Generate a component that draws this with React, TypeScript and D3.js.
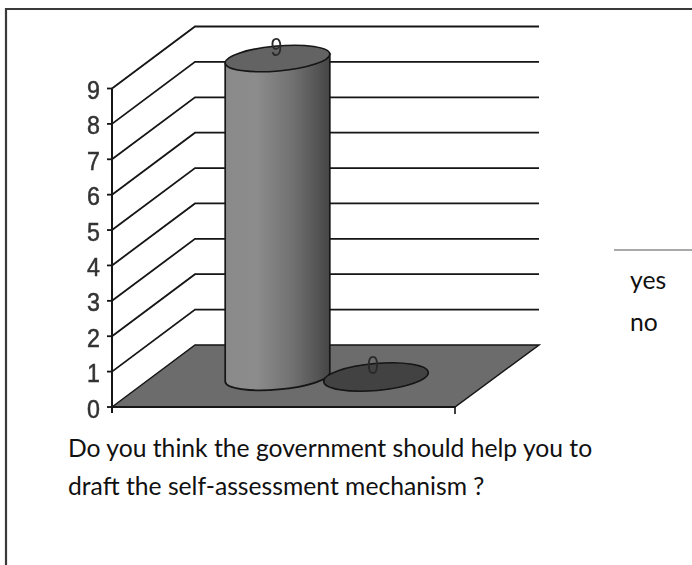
import React from "react";
import * as d3 from "d3";

const categories = ["yes", "no"];
const values = [9, 0];
const yTicks = [0, 1, 2, 3, 4, 5, 6, 7, 8, 9];
const questionLines = [
  "Do you think the government should help you to",
  "draft the self-assessment mechanism ?",
];

const W = 692, H = 565;
const y = d3.scaleLinear().domain([0, 9]).range([407, 88.5]);
const dx = 83, dy = -62;
const floorLeft = 112, floorRight = 455;
const cx = d3.scalePoint<string>().domain(categories).range([277.5, 376]);
const rx = 52.5, ry = 12.5;
const baseY = y(0) + dy / 2 + 1;
const ink = "#141414";

function lift(v: number) {
  return baseY - (y(0) - y(v));
}

export default function App() {
  const line = d3.line();
  const floor = line([
    [floorLeft, y(0)],
    [floorLeft + dx, y(0) + dy],
    [floorRight + dx + 1, y(0) + dy],
    [floorRight, y(0)],
  ])! + "Z";
  return (
    <svg width={W} height={H} viewBox={`0 0 ${W} ${H}`}
      style={{ position: "absolute", left: 0, top: 0, background: "#fff" }}>
      <defs>
        <linearGradient id="cyl" x1="0" x2="1" y1="0" y2="0">
          <stop offset="0" stopColor="#8a8a8a" />
          <stop offset="0.3" stopColor="#8c8c8c" />
          <stop offset="0.65" stopColor="#707070" />
          <stop offset="1" stopColor="#464646" />
        </linearGradient>
        <filter id="soft"><feGaussianBlur stdDeviation="0.4" /></filter>
      </defs>
      <path d={`M6,565V9H${W}`} fill="none" stroke="#3a3a3a" strokeWidth={2.2} />
      <g filter="url(#soft)">
        <path d={floor} fill="#6c6c6c" stroke={ink} strokeWidth={1.5} />
        {yTicks.map((t) => (
          <g key={t}>
            {t > 0 && (
              <path
                d={line([
                  [floorLeft, y(t)],
                  [floorLeft + dx, y(t) + dy],
                  [floorRight + dx + 1, y(t) + dy],
                ])!}
                fill="none" stroke={ink} strokeWidth={1.8}
              />
            )}
            <line x1={floorLeft - 5} x2={floorLeft} y1={y(t)} y2={y(t)} stroke={ink} strokeWidth={1.8} />
            <text transform={`translate(${floorLeft - 12},${y(t) + 10.5}) scale(0.93,1)`} textAnchor="end"
              fontFamily="Liberation Sans" fontSize={25} fill="#333" stroke="#333" strokeWidth={0.5}>{t}</text>
          </g>
        ))}
        <line x1={floorLeft} x2={floorLeft} y1={y(9)} y2={y(0) + 6} stroke={ink} strokeWidth={2} />
        <line x1={floorLeft} x2={floorRight} y1={y(0)} y2={y(0)} stroke={ink} strokeWidth={2} />
        <line x1={floorRight} x2={floorRight} y1={y(0)} y2={y(0) + 7} stroke={ink} strokeWidth={1.6} />
        {categories.map((c, i) => {
          const x = cx(c)!;
          const v = values[i];
          const top = lift(v);
          const tilt = -5;
          const rad = (tilt * Math.PI) / 180;
          const ex = rx * Math.cos(rad), ey = rx * Math.sin(rad);
          return (
            <g key={c}>
              {v > 0 && (
                <path
                  d={`M${x - ex},${top - ey}
                      L${x - ex},${baseY - ey}
                      A${rx},${ry} ${tilt} 0 0 ${x + ex},${baseY + ey}
                      L${x + ex},${top + ey}Z`}
                  fill="url(#cyl)" stroke={ink} strokeWidth={1.7}
                />
              )}
              <ellipse cx={x} cy={top} rx={rx} ry={v > 0 ? ry : ry + 1}
                transform={`rotate(${tilt} ${x} ${top})`}
                fill={v > 0 ? "#636363" : "#424242"} stroke={ink} strokeWidth={1.6} />
              <text transform={`translate(${x - (v > 0 ? 1 : 3)},${top - 3}) scale(0.82,1)`} textAnchor="middle"
                fontFamily="Liberation Sans" fontSize={26} fill="#2a2a2a">{v}</text>
            </g>
          );
        })}
      </g>
      <g fontFamily="Lato" fontSize={24.7} fill="#111">
        {questionLines.map((s, i) => (
          <text key={s} x={68} y={457 + i * 37.5}>{s}</text>
        ))}
        {categories.map((c, i) => (
          <text key={c} x={630} y={289 + i * 41.5}>{c}</text>
        ))}
      </g>
      <line x1={614} x2={W} y1={250} y2={250} stroke="#555" strokeWidth={1.2} />
    </svg>
  );
}
